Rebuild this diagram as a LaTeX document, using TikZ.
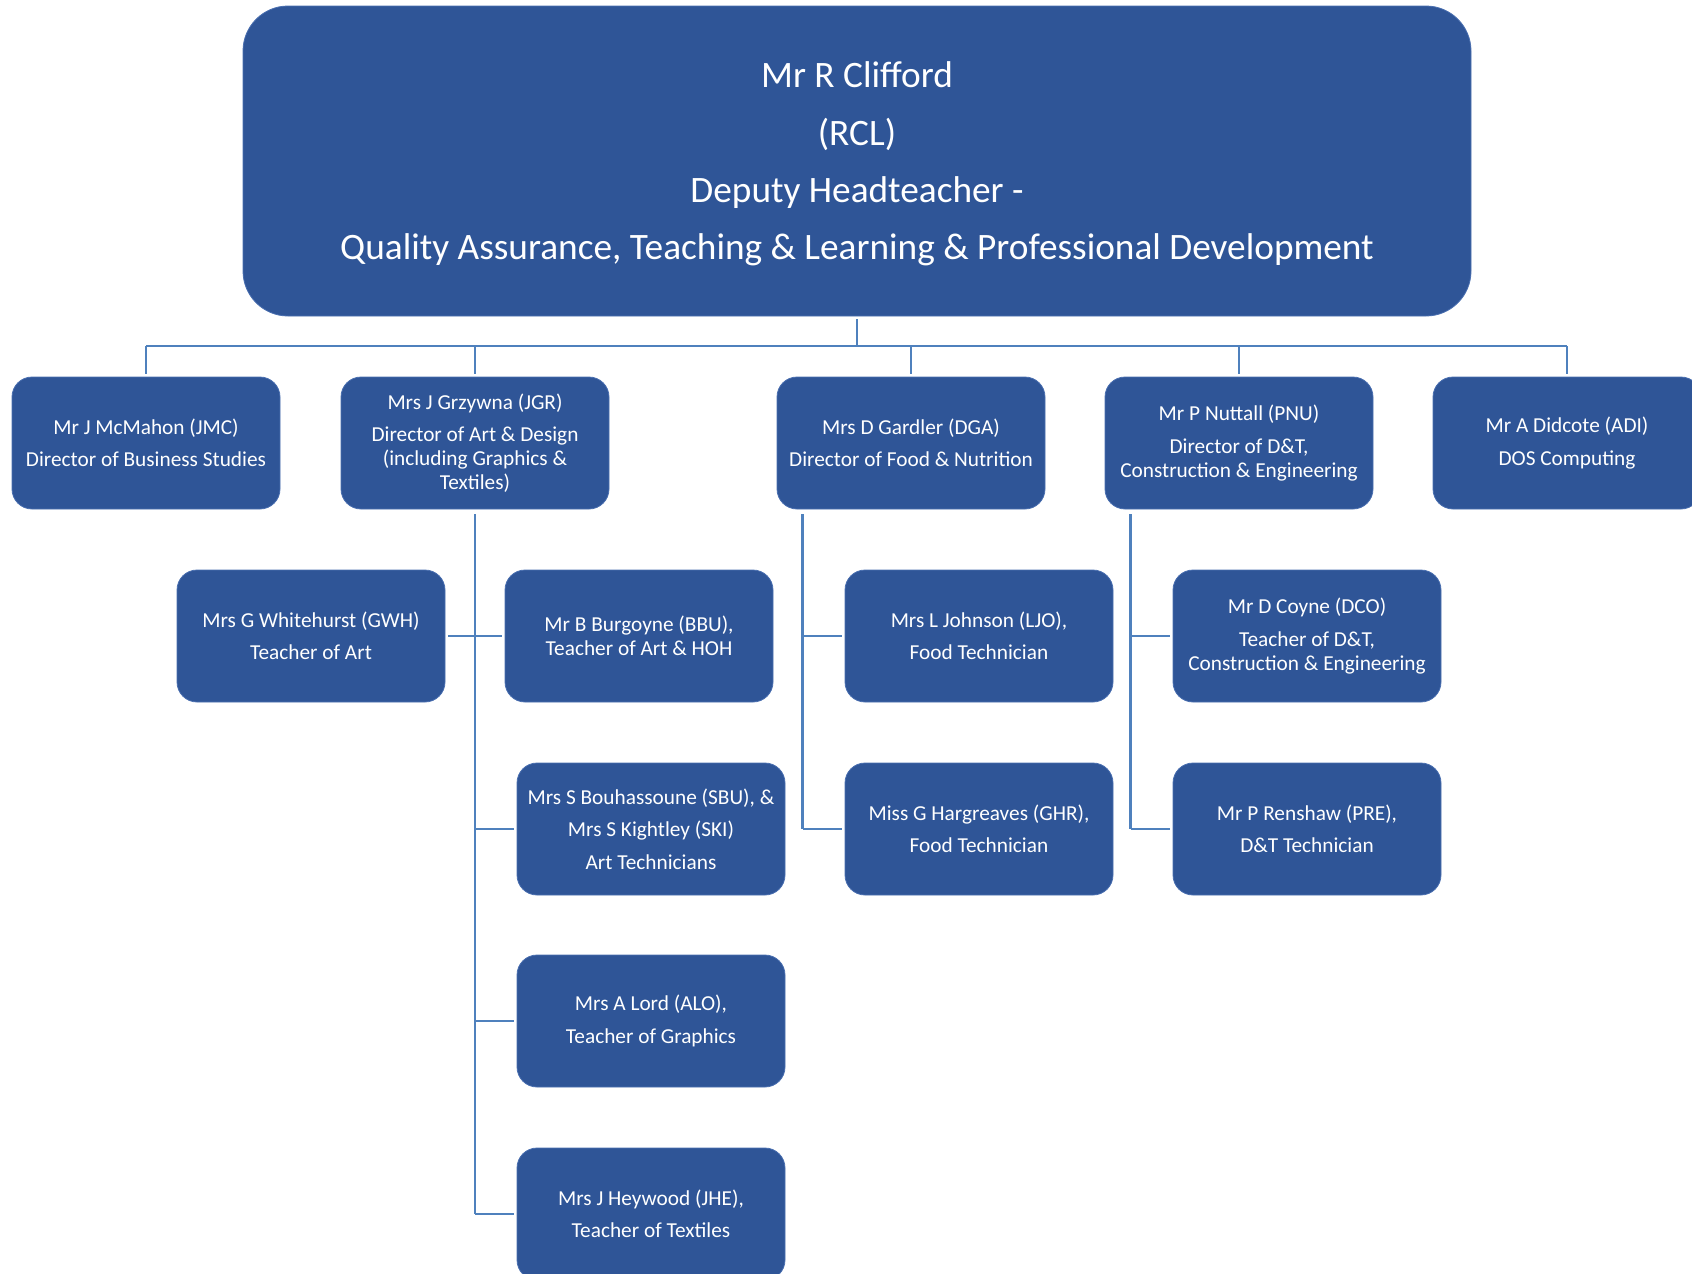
\documentclass[tikz,border=0pt]{standalone}
\usepackage{fontspec}
\setmainfont{Carlito}
\definecolor{boxblue}{HTML}{2F5597}
\definecolor{lineblue}{HTML}{4F81BD}
\definecolor{edgeblue}{HTML}{4A6FB0}
\begin{document}
\begin{tikzpicture}[x=1pt,y=-1pt,
  card/.style={draw=edgeblue, line width=0.8pt, fill=boxblue, text=white,
    rounded corners=20pt, minimum width=268pt, minimum height=132pt,
    inner sep=0pt, align=center, font=\fontsize{21.3}{23.7}\selectfont},
  head/.style={draw=edgeblue, line width=0.8pt, fill=boxblue, text=white,
    rounded corners=45pt, minimum width=1228pt, minimum height=310pt,
    inner sep=0pt, align=center, font=\fontsize{37.3}{57.2}\selectfont},
  link/.style={draw=lineblue, line width=2.7pt}]
\useasboundingbox (0,0) rectangle (1692,1274);

\node[head] (top) at (857,161) {};
\node[align=center, text=white, font=\fontsize{37.3}{57.2}\selectfont] (toptext) at (857,164) {Mr R Clifford\\(RCL)\\Deputy Headteacher -\\Quality Assurance, Teaching \& Learning \& Professional Development};

\node[card] (jmc) at (146,443) {Mr J McMahon (JMC)\\[8.7pt]Director of Business Studies};
\node[card] (jgr) at (475,443) {Mrs J Grzywna (JGR)\\[8.7pt]Director of Art \& Design\\(including Graphics \&\\Textiles)};
\node[card] (dga) at (911,443) {Mrs D Gardler (DGA)\\[8.7pt]Director of Food \& Nutrition};
\node[card] (pnu) at (1239,443) {Mr P Nuttall (PNU)\\[8.7pt]Director of D\&T,\\Construction \& Engineering};
\node[card] (adi) at (1567,443) {Mr A Didcote (ADI)\\[8.7pt]DOS Computing};

\node[card] (gwh) at (311,636) {Mrs G Whitehurst (GWH)\\[8.7pt]Teacher of Art};
\node[card] (bbu) at (639,636) {Mr B Burgoyne (BBU),\\Teacher of Art \& HOH};
\node[card] (sbu) at (651,829) {Mrs S Bouhassoune (SBU), \&\\[8.7pt]Mrs S Kightley (SKI)\\[8.7pt]Art Technicians};
\node[card] (alo) at (651,1021) {Mrs A Lord (ALO),\\[8.7pt]Teacher of Graphics};
\node[card] (jhe) at (651,1214) {Mrs J Heywood (JHE),\\[8.7pt]Teacher of Textiles};

\node[card] (ljo) at (979,636) {Mrs L Johnson (LJO),\\[8.7pt]Food Technician};
\node[card] (ghr) at (979,829) {Miss G Hargreaves (GHR),\\[8.7pt]Food Technician};

\node[card] (dco) at (1307,636) {Mr D Coyne (DCO)\\[8.7pt]Teacher of D\&T,\\Construction \& Engineering};
\node[card] (pre) at (1307,829) {Mr P Renshaw (PRE),\\[8.7pt]D\&T Technician};

% top bus
\coordinate (bus) at (857,346);
\draw[link] ([yshift=-3pt]top.south) -- (bus);
\draw[link] (jmc.north |- bus) -- (adi.north |- bus);
\foreach \n in {jmc,jgr,dga,pnu,adi}
  \draw[link] (\n.north |- bus) -- ([yshift=3pt]\n.north);

% art column
\draw[link] ([yshift=-5pt]jgr.south) -- (jgr.south |- jhe.west);
\draw[link] ([xshift=3pt]gwh.east) -- ([xshift=-3pt]bbu.west);
\foreach \n in {sbu,alo,jhe}
  \draw[link] (jgr.south |- \n.west) -- ([xshift=-3pt]\n.west);

% food column
\coordinate (dgax) at ([xshift=26pt,yshift=-5pt]dga.south west);
\draw[link] (dgax) -- (dgax |- ghr.west);
\foreach \n in {ljo,ghr}
  \draw[link] (dgax |- \n.west) -- ([xshift=-3pt]\n.west);

% D&T column
\coordinate (pnux) at ([xshift=26pt,yshift=-5pt]pnu.south west);
\draw[link] (pnux) -- (pnux |- pre.west);
\foreach \n in {dco,pre}
  \draw[link] (pnux |- \n.west) -- ([xshift=-3pt]\n.west);
\end{tikzpicture}
\end{document}
